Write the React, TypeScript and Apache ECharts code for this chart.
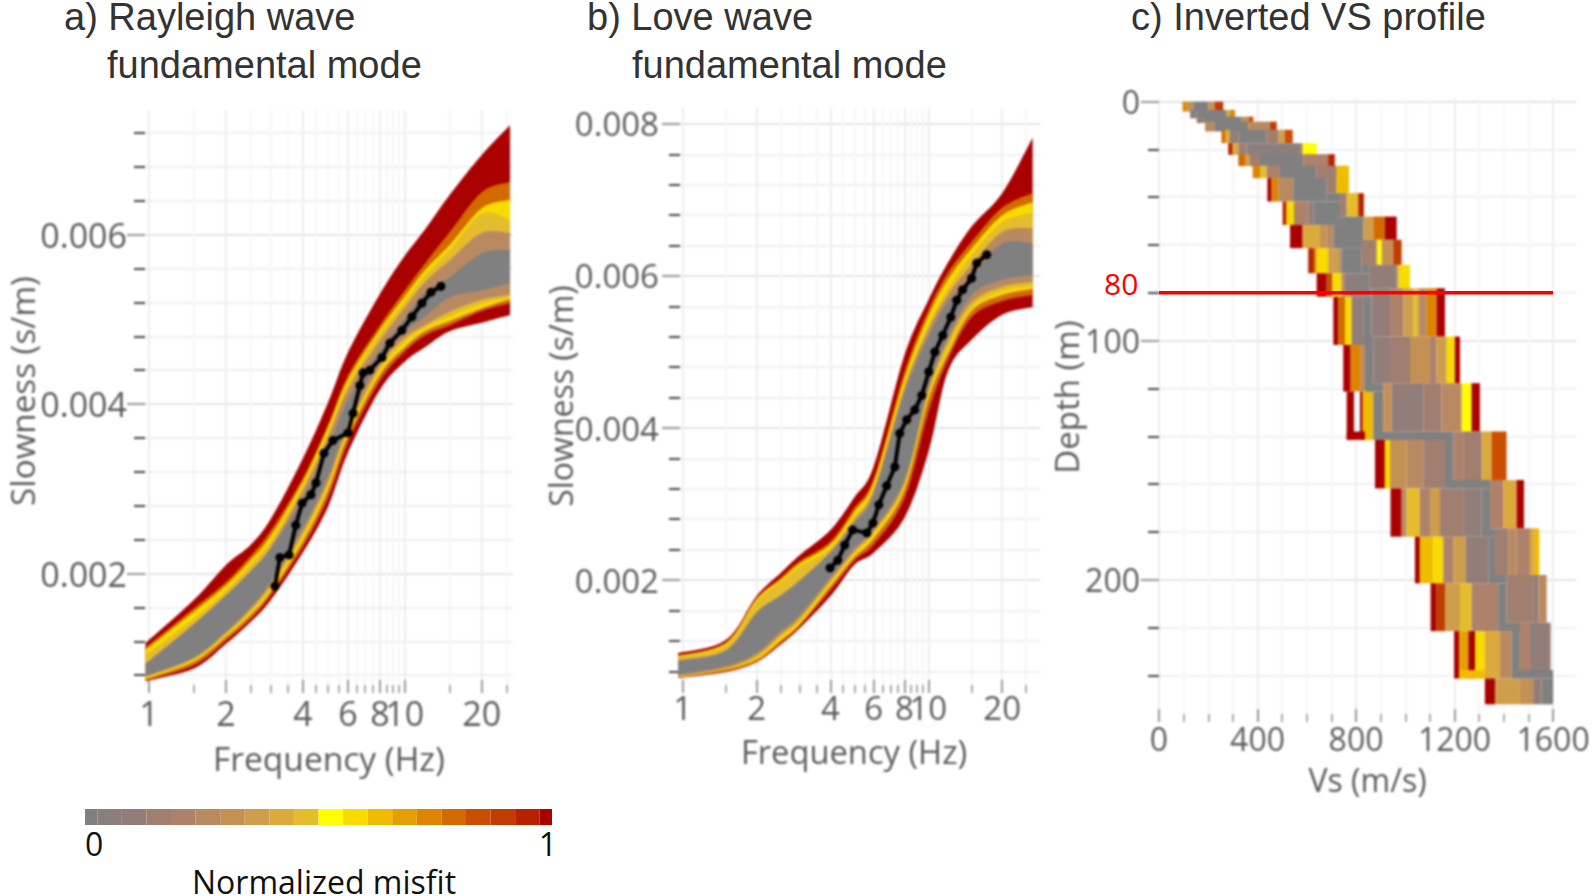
import React, { useEffect, useRef } from "react";
import * as echarts from "echarts";

// ---- misfit colour scale (0 .. 1)
const misfitColors = ["#808080","#8b7f7d","#937d78","#a07e70","#ae816b","#b98a62","#c49154","#cf9e4c","#dca93d","#e5bd2c","#ffff00","#f8dc00","#f0bc00","#e4a000","#dd8400","#d36a00","#c94e00","#c03c00","#b62200","#aa0000"];
const bandLevels = [19, 15, 11, 9, 5, 0];

// ---- a) Rayleigh wave
const freqA = [0.97,1.5,2,2.5,3,4,5,6,8,10,12,15,20,25.8];
const upA1 = [0.00118,0.00169,0.0021,0.00234,0.00265,0.00336,0.00401,0.00461,0.0053,0.00575,0.00606,0.00647,0.00694,0.00729];
const upA2 = [0.00113,0.00159,0.0019,0.00221,0.00251,0.00313,0.00375,0.00434,0.00493,0.00534,0.00566,0.00603,0.0065,0.00662];
const upA3 = [0.0011,0.00155,0.00186,0.00216,0.00245,0.00309,0.00372,0.00429,0.00488,0.00527,0.00558,0.00588,0.00631,0.00641];
const upA4 = [0.00104,0.00147,0.0018,0.00211,0.00239,0.00304,0.00366,0.00424,0.00483,0.00521,0.00552,0.00582,0.00625,0.00617];
const upA5 = [0.00094,0.00141,0.00175,0.00204,0.00232,0.00298,0.0036,0.00417,0.00475,0.00514,0.00544,0.0057,0.00602,0.00602];
const upA6 = [0.00093,0.0014,0.00174,0.00202,0.0023,0.0029,0.00348,0.00405,0.00464,0.00501,0.00532,0.0055,0.00578,0.00582];
const loA6 = [0.00079,0.00101,0.00131,0.0016,0.00191,0.00254,0.00314,0.00379,0.00454,0.00485,0.00503,0.00526,0.00534,0.00543];
const loA5 = [0.00078,0.001,0.0013,0.00158,0.00187,0.00249,0.00308,0.00372,0.00445,0.00478,0.00493,0.00509,0.00523,0.00529];
const loA4 = [0.00077,0.00098,0.00127,0.00154,0.00183,0.00243,0.00302,0.00367,0.0044,0.00473,0.0049,0.00503,0.00518,0.00526];
const loA3 = [0.00075,0.00096,0.00125,0.00151,0.00179,0.00238,0.00297,0.00362,0.00435,0.00467,0.00486,0.00498,0.00513,0.00524];
const loA2 = [0.00074,0.00092,0.00121,0.00147,0.00175,0.00232,0.00289,0.00355,0.00428,0.00462,0.00481,0.00493,0.0051,0.00519];
const loA1 = [0.00073,0.00088,0.00117,0.00143,0.00169,0.00225,0.00278,0.00343,0.00417,0.0045,0.00467,0.00486,0.00496,0.00505];
const obsFreqA = [13.85,12.66,11.68,10.67,9.75,8.75,8.15,7.31,6.87,6.68,6.28,6.0,5.24,4.83,4.5,4.3,3.97,3.75,3.53,3.25,3.11];
const obsSlowA = [0.00539,0.00532,0.00519,0.00503,0.00487,0.00472,0.00455,0.0044,0.00437,0.00422,0.00389,0.00366,0.00357,0.00342,0.00307,0.00293,0.00283,0.00257,0.00222,0.00219,0.00185];

// ---- b) Love wave
const freqB = [0.957,1.5,2,2.5,3,4,5,6,8,10,12,15,20,26.6];
const upB1 = [0.00104,0.00121,0.00179,0.00209,0.00233,0.00266,0.00309,0.0035,0.00496,0.00568,0.00617,0.00665,0.00709,0.00782];
const upB2 = [0.00101,0.00118,0.00176,0.00203,0.00225,0.00251,0.00295,0.00334,0.00474,0.00555,0.00604,0.00645,0.0069,0.00709];
const upB3 = [0.001,0.00117,0.00175,0.002,0.00222,0.00247,0.0029,0.00329,0.00466,0.00547,0.00595,0.00636,0.0068,0.00697];
const upB4 = [0.00099,0.00115,0.00172,0.00197,0.00218,0.00242,0.00284,0.00322,0.00458,0.00536,0.00583,0.00628,0.00671,0.00683];
const upB5 = [0.00095,0.00108,0.00158,0.0018,0.002,0.00238,0.00279,0.00318,0.00453,0.00529,0.00575,0.00615,0.00658,0.00663];
const upB6 = [0.00093,0.00107,0.00157,0.00179,0.00199,0.00236,0.00275,0.00313,0.00446,0.0052,0.00566,0.00599,0.00643,0.00643];
const loB6 = [0.00075,0.00087,0.00104,0.00132,0.00154,0.00204,0.00242,0.00268,0.00332,0.00453,0.00518,0.00575,0.00595,0.00601];
const loB5 = [0.00074,0.00084,0.00101,0.00128,0.0015,0.002,0.00238,0.00264,0.00328,0.00449,0.00513,0.00565,0.00586,0.00592];
const loB4 = [0.00072,0.00083,0.00097,0.00124,0.00146,0.00196,0.00234,0.00261,0.00322,0.00442,0.00503,0.00558,0.0058,0.00587];
const loB3 = [0.00072,0.00082,0.00095,0.0012,0.00142,0.00192,0.0023,0.00255,0.00318,0.00437,0.00497,0.00554,0.00575,0.00583];
const loB2 = [0.00072,0.0008,0.00093,0.00117,0.0014,0.00187,0.00226,0.00247,0.00308,0.00421,0.0049,0.00546,0.00567,0.00575];
const loB1 = [0.00071,0.00079,0.00092,0.00115,0.00137,0.00179,0.0022,0.00236,0.00282,0.00368,0.00474,0.00516,0.00549,0.00559];
const obsFreqB = [17.3,15.75,15.0,13.8,13.06,12.35,11.45,10.63,10.05,9.41,8.81,8.17,7.65,7.31,6.77,6.29,5.95,5.62,4.92,4.57,4.28,3.98];
const obsSlowB = [0.00628,0.00617,0.00597,0.00582,0.00568,0.00546,0.00522,0.005,0.00474,0.00443,0.00424,0.00411,0.00393,0.00349,0.00324,0.00299,0.00275,0.00262,0.00266,0.00246,0.00226,0.00216];

// ---- frequency and slowness ticks
const freqLabelled = [1,2,4,6,8,10,20];
const freqMinor = [1.5,2.5,3,3.5,4.5,5,5.5,6.5,7,7.5,8.5,9,9.5,15,25];
const slowLabelledA = [0.002,0.004,0.006];
const slowMinorA = [0.0008,0.0012,0.0016,0.0024,0.0028,0.0032,0.0036,0.0044,0.0048,0.0052,0.0056,0.0064,0.0068,0.0072];
const slowLabelledB = [0.002,0.004,0.006,0.008];
const slowMinorB = [0.0008,0.0012,0.0016,0.0024,0.0028,0.0032,0.0036,0.0044,0.0048,0.0052,0.0056,0.0064,0.0068,0.0072,0.0076];

// ---- c) Inverted VS profile: depth layers, Vs edges, misfit colour index (-1 = empty)
const layerTop = [0,3.5,6.3,8.4,11.8,17.4,22,26.8,32,41.8,51.6,61.3,71.8,81.6,101.8,121.3,141.5,161.8,182,201.5,221.5,241.3];
const layerBottom = [4.2,7,9,12.5,17.4,22.3,27,32,41.8,51.6,61.3,71.8,81.6,101.8,121.3,141.5,161.8,182,201.5,221.5,241.3,252.1];
const layerShift = [0,0,0,0,0,0,0,0,3.5,3.5,3.5,3.5,3.5,3.5,3.5,3.5,3.5,3.5,3.5,3.5,3.5,0];
const layerSplit = [0,0,0,0,0,0,0,0,681,735,829,823,856,863,870,911,1195,1344,1364,1411,1432,0];
const layerEdges = [
  [96,112,139,200,227,261],
  [126,153,275,288,309],
  [153,180,336,363,383],
  [187,227,363,451,478],
  [254,268,288,322,437,484,511,543],
  [281,299,322,356,572,583,640],
  [322,349,369,410,586,687,714],
  [380,410,437,491,640,721,771],
  [440,457,484,545,681,721,771],
  [502,518,548,606,627,735,762,809,832],
  [532,583,654,681,708,829,870,917,965],
  [606,629,640,687,728,741,823,877,886,904,951,985],
  [640,681,704,741,755,856,965,972,1019],
  [708,728,755,782,829,863,938,992,1032,1053,1087,1127,1161],
  [748,778,819,836,870,938,1019,1100,1127,1168,1201,1222],
  [762,792,816,827,870,911,944,1073,1147,1229,1269,1303],
  [877,917,938,1005,1073,1161,1195,1235,1310,1350,1411],
  [940,985,1005,1059,1100,1141,1235,1310,1344,1398,1452,1482],
  [1039,1059,1114,1154,1195,1246,1337,1364,1418,1452,1506,1526,1544],
  [1103,1127,1161,1222,1269,1377,1411,1519,1540,1574],
  [1198,1219,1256,1283,1323,1384,1432,1465,1506,1590],
  [1323,1364,1465,1519,1553,1600],
];
const layerColors = [
  [14,6,0,6,17],
  [1,0,8,14],
  [2,0,6,16],
  [5,0,5,17],
  [15,8,2,0,3,7,16],
  [18,8,3,1,3,10],
  [15,7,3,0,4,18],
  [14,9,4,0,3,12],
  [19,14,5,0,3,12],
  [18,11,4,2,0,3,9,18],
  [19,8,6,5,0,7,15,19],
  [18,14,11,7,5,0,3,6,10,6,17],
  [19,16,11,5,1,2,5,11],
  [19,15,11,2,0,2,4,7,9,5,14,19],
  [19,14,5,0,2,3,6,4,7,11,19],
  [19,-1,19,12,0,6,2,3,5,10,19],
  [19,11,6,5,3,0,4,3,8,16],
  [19,5,9,4,7,3,2,0,4,8,19],
  [19,12,11,4,7,2,0,3,5,4,8,12],
  [19,17,7,9,4,0,3,2,5],
  [19,13,19,11,8,5,0,4,2],
  [19,7,6,2,0],
];
const stripTop = [38.3,48.1,68.3,78.1,98,117.8,138,138,158.3,178.5,198,218,237.8,237.8];
const stripBottom = [41.8,51.6,71.8,81.6,101.8,121.3,141.5,141.5,161.8,182,201.5,221.5,241.3,241.3];
const stripFrom = [681,735,823,856,830,843,762,884,1188,1323,1344,1398,1432,1219];
const stripTo = [735,829,856,863,870,911,836,1195,1344,1364,1411,1465,1600,1323];
const stripColor = [0,0,0,0,0,0,19,0,0,0,0,0,0,12];
const vsLabelled = [0,400,800,1200,1600];
const vsMinor = [100,200,300,500,600,700,900,1000,1100,1300,1400,1500];
const depthLabelled = [0,100,200];
const depthMinor = [20,40,60,80,120,140,160,180,220,240];
const markerDepth = [80, 80];
const markerVs = [0, 1600];

const GREY = "#5c5c5c";
const font = (size: number) => ({ fontFamily: "Open Sans", fontSize: size, color: GREY });
const titleFont = { fontFamily: "Liberation Sans", fontSize: 38, lineHeight: 36, fill: "#333" };
const gridC = { left: 1159, top: 98, width: 417, height: 624, outerBoundsMode: "none" };
const VS_MAX = 1693;
const DEPTH_MIN = -1.5;
const DEPTH_MAX = 259.5;

// Draws a curve through the read points as a smooth outline (screen-space only).
function smoothOutline(pts: number[][]) {
  const out: number[][] = [];
  for (let i = 0; i < pts.length - 1; i++) {
    const p0 = pts[Math.max(0, i - 1)], p1 = pts[i], p2 = pts[i + 1], p3 = pts[Math.min(pts.length - 1, i + 2)];
    for (let s = 0; s < 8; s++) {
      const t = s / 8, t2 = t * t, t3 = t2 * t;
      out.push([0, 1].map((d) => 0.5 * (2 * p1[d] + (p2[d] - p0[d]) * t + (2 * p0[d] - 5 * p1[d] + 4 * p2[d] - p3[d]) * t2 + (3 * p1[d] - p0[d] - 3 * p2[d] + p3[d]) * t3)));
    }
  }
  out.push(pts[pts.length - 1]);
  return out;
}

function bandSeries(freq: number[], uppers: number[][], lowers: number[][], axis: number) {
  return bandLevels.map((level, k) => ({
    type: "custom",
    xAxisIndex: axis,
    yAxisIndex: axis,
    clip: false,
    silent: true,
    data: freq.map((f, i) => [f, uppers[k][i], lowers[k][i]]),
    encode: { x: 0, y: [1, 2] },
    renderItem: (params: any, api: any) => {
      if (params.dataIndex !== 0) return null;
      const top = smoothOutline(freq.map((f, i) => api.coord([f, uppers[k][i]])));
      const bottom = smoothOutline(freq.map((f, i) => api.coord([f, lowers[k][i]]))).reverse();
      return { type: "polygon", shape: { points: top.concat(bottom) }, style: { fill: misfitColors[level] } };
    },
  }));
}

function obsSeries(freq: number[], slow: number[], axis: number) {
  return {
    type: "line",
    xAxisIndex: axis,
    yAxisIndex: axis,
    data: freq.map((f, i) => [f, slow[i]]),
    symbol: "circle",
    symbolSize: 9,
    lineStyle: { color: "#000", width: 4 },
    itemStyle: { color: "#000" },
    silent: true,
  };
}

function xAxes(type: string, min: number, max: number, major: number[], minor: number[], grid: number, name: string, gap: number, margin: number, labelFont: any, nameFont: any) {
  return [
    {
      type, logBase: 10, gridIndex: grid, min, max, position: "bottom",
      name, nameLocation: "middle", nameGap: gap, nameMoveOverlap: false, nameTextStyle: nameFont,
      axisLine: { show: false, onZero: false },
      axisTick: { show: true, inside: true, length: 13, customValues: major, lineStyle: { color: "#999", width: 2 } },
      axisLabel: { show: true, customValues: major, margin, hideOverlap: false, formatter: (v: any) => String(+v), ...labelFont },
      splitLine: { show: true, lineStyle: { color: "#eee", width: 2 } },
    },
    {
      type, logBase: 10, gridIndex: grid, min, max, position: "bottom",
      axisLine: { show: false, onZero: false },
      axisTick: { show: true, inside: true, length: 8, customValues: minor, lineStyle: { color: "#aaa", width: 2 } },
      axisLabel: { show: false, customValues: minor },
      splitLine: { show: true, lineStyle: { color: "#f6f6f6", width: 2 } },
    },
  ];
}

function yAxes(min: number, max: number, major: number[], minor: number[], grid: number, name: string, gap: number, margin: number, shift: number, inverse: boolean, labelFont: any, nameFont: any, fmt: (v: number) => string) {
  return [
    {
      type: "value", gridIndex: grid, min, max, inverse, position: "left",
      name, nameLocation: "middle", nameGap: gap, nameMoveOverlap: false, nameTextStyle: { ...nameFont, padding: [0, 0, 0, shift] },
      axisLine: { show: false, onZero: false },
      axisTick: { show: true, length: 18, customValues: major, lineStyle: { color: "#999", width: 2 } },
      axisLabel: { show: true, customValues: major, margin, hideOverlap: false, formatter: (v: any) => fmt(+v), ...labelFont },
      splitLine: { show: true, lineStyle: { color: "#e4e4e4", width: 2 } },
    },
    {
      type: "value", gridIndex: grid, min, max, inverse, position: "left",
      axisLine: { show: false, onZero: false },
      axisTick: { show: true, length: 11, customValues: minor, lineStyle: { color: "#444", width: 2 } },
      axisLabel: { show: false, customValues: minor },
      splitLine: { show: true, lineStyle: { color: "#f0f0f0", width: 2 } },
    },
  ];
}

function plotOption() {
  return {
    animation: false,
    backgroundColor: "#fff",
    grid: [
      { left: 145, top: 110, width: 368, height: 583, outerBoundsMode: "none" },
      { left: 680, top: 108, width: 360, height: 585, outerBoundsMode: "none" },
      gridC,
    ],
    xAxis: [
      ...xAxes("log", 0.965, 26.5, freqLabelled, freqMinor, 0, "Frequency (Hz)", 48, 3, font(34), font(33.5)),
      ...xAxes("log", 0.975, 28.5, freqLabelled, freqMinor, 1, "Frequency (Hz)", 42, -2, font(33), { ...font(32.7), padding: [0, 12, 0, 0] }),
      ...xAxes("value", 0, VS_MAX, vsLabelled, vsMinor, 2, "Vs (m/s)", 41, 0, font(32), font(32)),
    ],
    yAxis: [
      ...yAxes(0.00059, 0.00747, slowLabelledA, slowMinorA, 0, "Slowness (s/m)", 106, 18, 21, false, font(34), font(33.2), (v) => v.toFixed(3)),
      ...yAxes(0.000514, 0.00821, slowLabelledB, slowMinorB, 1, "Slowness (s/m)", 104, 21, 9, false, font(33), font(32), (v) => v.toFixed(3)),
      ...yAxes(DEPTH_MIN, DEPTH_MAX, depthLabelled, depthMinor, 2, "Depth (m)", 76, 19, 26, true, font(32), font(33), (v) => String(v)),
    ],
    series: [
      ...bandSeries(freqA, [upA1, upA2, upA3, upA4, upA5, upA6], [loA1, loA2, loA3, loA4, loA5, loA6], 0),
      obsSeries(obsFreqA, obsSlowA, 0),
      ...bandSeries(freqB, [upB1, upB2, upB3, upB4, upB5, upB6], [loB1, loB2, loB3, loB4, loB5, loB6], 2),
      obsSeries(obsFreqB, obsSlowB, 2),
      {
        type: "custom", xAxisIndex: 4, yAxisIndex: 4, silent: true,
        data: layerTop.map((t, i) => [layerEdges[i][0], t]),
        renderItem: (params: any, api: any) => {
          const i = params.dataIndex;
          const edges = layerEdges[i];
          const children = layerColors[i].map((c, j) => {
            const sh = layerShift[i] > 0 && edges[j] >= layerSplit[i] ? layerShift[i] : 0;
            const p0 = api.coord([edges[j], layerTop[i] - sh]);
            const p1 = api.coord([edges[j + 1], layerBottom[i] - sh]);
            return { type: "rect", shape: { x: p0[0], y: p0[1], width: p1[0] - p0[0], height: p1[1] - p0[1] }, style: { fill: c < 0 ? "#fff" : misfitColors[c] } };
          });
          return { type: "group", children };
        },
      },
      {
        type: "custom", xAxisIndex: 4, yAxisIndex: 4, silent: true,
        data: stripTop.map((t, i) => [stripFrom[i], t]),
        renderItem: (params: any, api: any) => {
          const i = params.dataIndex;
          const p0 = api.coord([stripFrom[i], stripTop[i]]);
          const p1 = api.coord([stripTo[i], stripBottom[i]]);
          return { type: "rect", shape: { x: p0[0], y: p0[1], width: p1[0] - p0[0], height: p1[1] - p0[1] }, style: { fill: misfitColors[stripColor[i]] } };
        },
      },
    ],
  };
}

function overlayOption() {
  return {
    animation: false,
    grid: [gridC, { left: 85, top: 809, width: 467, height: 16, outerBoundsMode: "none" }],
    xAxis: [
      { type: "value", gridIndex: 0, min: 0, max: VS_MAX, show: false },
      {
        type: "value", gridIndex: 1, min: 0, max: 1, interval: 1,
        axisLine: { show: false }, axisTick: { show: false }, splitLine: { show: false },
        axisLabel: { margin: 2, alignMinLabel: "left", alignMaxLabel: "right", padding: [0, -5, 0, 0], fontFamily: "Open Sans", fontSize: 32, color: "#111" },
      },
    ],
    yAxis: [
      { type: "value", gridIndex: 0, min: DEPTH_MIN, max: DEPTH_MAX, inverse: true, show: false },
      { type: "value", gridIndex: 1, min: 0, max: 1, show: false },
    ],
    graphic: [
      { type: "text", left: 64, top: -2, style: { text: "a) Rayleigh wave", ...titleFont } },
      { type: "text", left: 107, top: 46, style: { text: "fundamental mode", ...titleFont } },
      { type: "text", left: 587, top: -2, style: { text: "b) Love wave", ...titleFont } },
      { type: "text", left: 632, top: 46, style: { text: "fundamental mode", ...titleFont } },
      { type: "text", left: 1131, top: -2, style: { text: "c) Inverted VS profile", ...titleFont } },
      { type: "text", left: 192, top: 865, style: { text: "Normalized misfit", fontFamily: "Open Sans", fontSize: 32, fill: "#111" } },
      { type: "text", left: 1104, top: 268, style: { text: "80", fontFamily: "Open Sans", fontSize: 30, fill: "#ff0000" } },
    ],
    series: [
      {
        type: "line", xAxisIndex: 0, yAxisIndex: 0, symbol: "none", silent: true,
        data: markerVs.map((v, i) => [v, markerDepth[i]]),
        lineStyle: { color: "#ff0000", width: 3.5 },
      },
      {
        type: "custom", xAxisIndex: 1, yAxisIndex: 1, silent: true,
        data: misfitColors.map((_, i) => [i / 19, 0]),
        renderItem: (params: any, api: any) => {
          const i = params.dataIndex;
          const p0 = api.coord([Math.max(0, (i - 0.5) / 19), 1]);
          const p1 = api.coord([Math.min(1, (i + 0.5) / 19), 0]);
          return { type: "rect", shape: { x: p0[0], y: p0[1], width: p1[0] - p0[0], height: p1[1] - p0[1] }, style: { fill: misfitColors[i] } };
        },
      },
    ],
  };
}

export default function App() {
  const plotRef = useRef<HTMLDivElement>(null);
  const overlayRef = useRef<HTMLDivElement>(null);
  useEffect(() => {
    const plots = echarts.init(plotRef.current!, undefined, { renderer: "svg" });
    plots.setOption(plotOption() as any);
    const overlay = echarts.init(overlayRef.current!, undefined, { renderer: "svg" });
    overlay.setOption(overlayOption() as any);
    return () => {
      plots.dispose();
      overlay.dispose();
    };
  }, []);
  const box: React.CSSProperties = { position: "absolute", left: 0, top: 0, width: 1593, height: 896 };
  return (
    <div style={{ ...box, overflow: "hidden", background: "#fff" }}>
      <div ref={plotRef} style={{ ...box, filter: "blur(1.1px)" }} />
      <div ref={overlayRef} style={{ ...box, pointerEvents: "none" }} />
    </div>
  );
}
